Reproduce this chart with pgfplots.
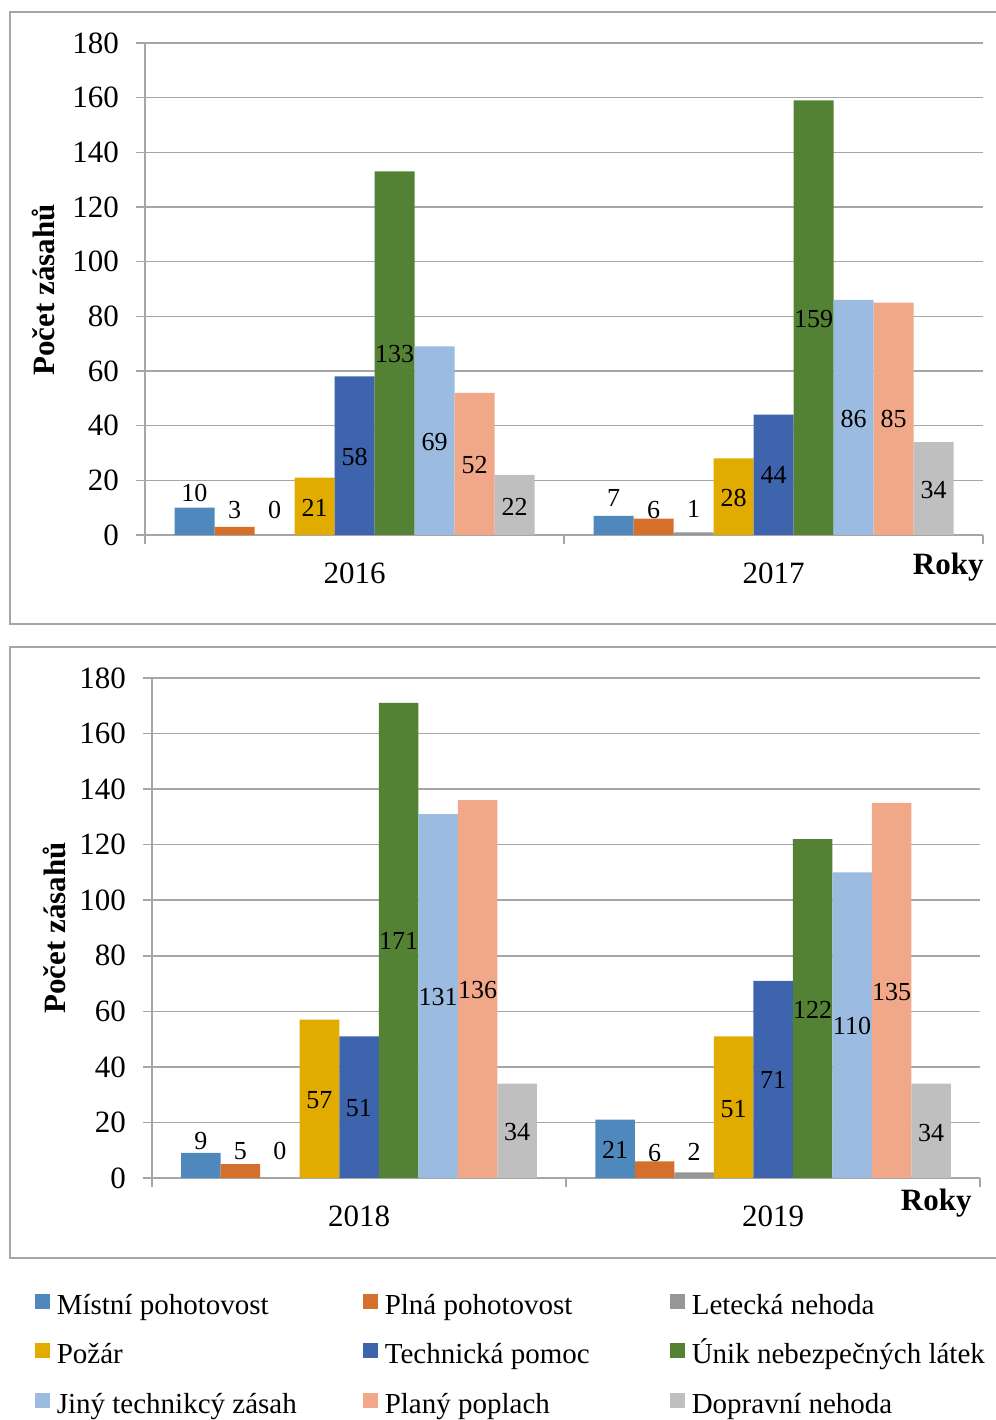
\documentclass[border=0pt]{standalone}
\usepackage{fontspec}
\setmainfont{Liberation Serif}
\usepackage{pgfplots}
\pgfplotsset{compat=1.18}
\definecolor{axgray}{HTML}{A6A6A6}
\definecolor{c1}{HTML}{4F88BD}
\definecolor{c2}{HTML}{D4702B}
\definecolor{c3}{HTML}{969696}
\definecolor{c4}{HTML}{E2AB00}
\definecolor{c5}{HTML}{3D64AD}
\definecolor{c6}{HTML}{548235}
\definecolor{c7}{HTML}{9BBBE0}
\definecolor{c8}{HTML}{F1A889}
\definecolor{c9}{HTML}{BFBFBF}
\newcommand\tickfont{\fontsize{15.5}{18}\selectfont}
\newcommand\lblfont{\fontsize{13}{15}\selectfont}
\newcommand\legfont{\fontsize{14.5}{17}\selectfont}
\newcommand\titfont{\fontsize{15.5}{18}\selectfont\bfseries}
% one series: shift, bar width, colour, bar values, label positions [label text]
\newcommand{\ser}[5]{%
\addplot[ybar, bar width=#2, bar shift=#1, fill=#3, draw=none] coordinates {#4};
\addplot[ybar, bar width=#2, bar shift=#1, draw=none, fill=none, nodes near coords, point meta=explicit symbolic, nodes near coords style={anchor=center, xshift=#1, font=\lblfont, text=black, inner sep=0pt}] coordinates {#5};
}
\pgfplotsset{panel/.style={scale only axis, xmin=-0.5, xmax=1.5, ymin=0, ymax=180,
 ytick={0,20,...,180}, xtick={-0.5,0.5,1.5}, xticklabels={,,},
 extra x ticks={0,1}, extra x tick style={major tick length=0pt, xticklabel style={yshift=-10.5pt}},
 yticklabel style={xshift=-5pt},
 axis x line*=bottom, axis y line*=left,
 axis line style={draw=axgray, line width=0.75pt, -},
 ymajorgrids, grid style={draw=axgray, line width=0.75pt},
 tick style={draw=axgray, line width=0.75pt}, tick align=outside, major tick length=4.5pt,
 ticklabel style={font=\tickfont}, /pgf/number format/assume math mode=true, clip=false}}
\pgfplotsset{legcol/.style={hide axis, scale only axis, width=10pt, height=10pt, xmin=0, xmax=1, ymin=0, ymax=1,
 anchor=north west,
 legend style={at={(0,1)}, anchor=north west, draw=none, fill=none, inner sep=0pt, outer sep=0pt, font=\legfont,
   nodes={inner sep=0pt, text height=10pt, text depth=3pt}, row sep=11.5pt, column sep=3.5pt},
 legend cell align=left,
 legend image code/.code={\fill[##1] (0pt,-0.5pt) rectangle (7pt,6.5pt);}}}
\begin{document}
\begin{tikzpicture}[x=1pt,y=1pt]
\useasboundingbox (0,0) rectangle (498,710);
\draw[axgray, line width=0.75pt] (5,704) rectangle (505,398);
\draw[axgray, line width=0.75pt] (5,386.5) rectangle (505,81);
% ---------- panel 1 ----------
\begin{axis}[panel, at={(72.5pt,442.5pt)}, anchor=south west, width=419pt, height=246pt,
 extra x tick labels={2016,2017}]
\ser{-80pt}{20pt}{c1}{(0,10) (1,7)}{(0,15.4)[10] (1,13.5)[7]}
\ser{-60pt}{20pt}{c2}{(0,3) (1,6)}{(0,9.1)[3] (1,9.1)[6]}
\ser{-40pt}{20pt}{c3}{(0,0) (1,1)}{(0,9.1)[0] (1,9.5)[1]}
\ser{-20pt}{20pt}{c4}{(0,21) (1,28)}{(0,9.9)[21] (1,13.5)[28]}
\ser{0pt}{20pt}{c5}{(0,58) (1,44)}{(0,28.5)[58] (1,22)[44]}
\ser{20pt}{20pt}{c6}{(0,133) (1,159)}{(0,66.2)[133] (1,79)[159]}
\ser{40pt}{20pt}{c7}{(0,69) (1,86)}{(0,34)[69] (1,42.4)[86]}
\ser{60pt}{20pt}{c8}{(0,52) (1,85)}{(0,25.6)[52] (1,42.4)[85]}
\ser{80pt}{20pt}{c9}{(0,22) (1,34)}{(0,10.2)[22] (1,16.5)[34]}
\end{axis}
\node[rotate=90, font=\titfont] at (21.5,565) {Počet zásahů};
\node[anchor=east, font=\titfont, inner sep=0pt] at (492,426.5) {Roky};
% ---------- panel 2 ----------
\begin{axis}[panel, at={(76pt,121pt)}, anchor=south west, width=414pt, height=250pt,
 extra x tick labels={2018,2019}]
\ser{-79pt}{19.75pt}{c1}{(0,9) (1,21)}{(0,13.3)[9] (1,10.1)[21]}
\ser{-59.25pt}{19.75pt}{c2}{(0,5) (1,6)}{(0,9.7)[5] (1,9)[6]}
\ser{-39.5pt}{19.75pt}{c3}{(0,0) (1,2)}{(0,9.7)[0] (1,9.4)[2]}
\ser{-19.75pt}{19.75pt}{c4}{(0,57) (1,51)}{(0,28.1)[57] (1,24.8)[51]}
\ser{0pt}{19.75pt}{c5}{(0,51) (1,71)}{(0,25.2)[51] (1,35.3)[71]}
\ser{19.75pt}{19.75pt}{c6}{(0,171) (1,122)}{(0,85.3)[171] (1,60.5)[122]}
\ser{39.5pt}{19.75pt}{c7}{(0,131) (1,110)}{(0,65.2)[131] (1,54.7)[110]}
\ser{59.25pt}{19.75pt}{c8}{(0,136) (1,135)}{(0,67.7)[136] (1,67)[135]}
\ser{79pt}{19.75pt}{c9}{(0,34) (1,34)}{(0,16.6)[34] (1,16.2)[34]}
\end{axis}
\node[rotate=90, font=\titfont] at (27,246) {Počet zásahů};
\node[anchor=east, font=\titfont, inner sep=0pt] at (486,108.5) {Roky};
% ---------- legend (three columns) ----------
\begin{axis}[legcol, at={(17.5pt,63pt)}]
\addlegendimage{c1}\addlegendentry{Místní pohotovost}
\addlegendimage{c4}\addlegendentry{Požár}
\addlegendimage{c7}\addlegendentry{Jiný technikcý zásah}
\end{axis}
\begin{axis}[legcol, at={(181.5pt,63pt)}]
\addlegendimage{c2}\addlegendentry{Plná pohotovost}
\addlegendimage{c5}\addlegendentry{Technická pomoc}
\addlegendimage{c8}\addlegendentry{Planý poplach}
\end{axis}
\begin{axis}[legcol, at={(335pt,63pt)}]
\addlegendimage{c3}\addlegendentry{Letecká nehoda}
\addlegendimage{c6}\addlegendentry{Únik nebezpečných látek}
\addlegendimage{c9}\addlegendentry{Dopravní nehoda}
\end{axis}
\end{tikzpicture}
\end{document}
